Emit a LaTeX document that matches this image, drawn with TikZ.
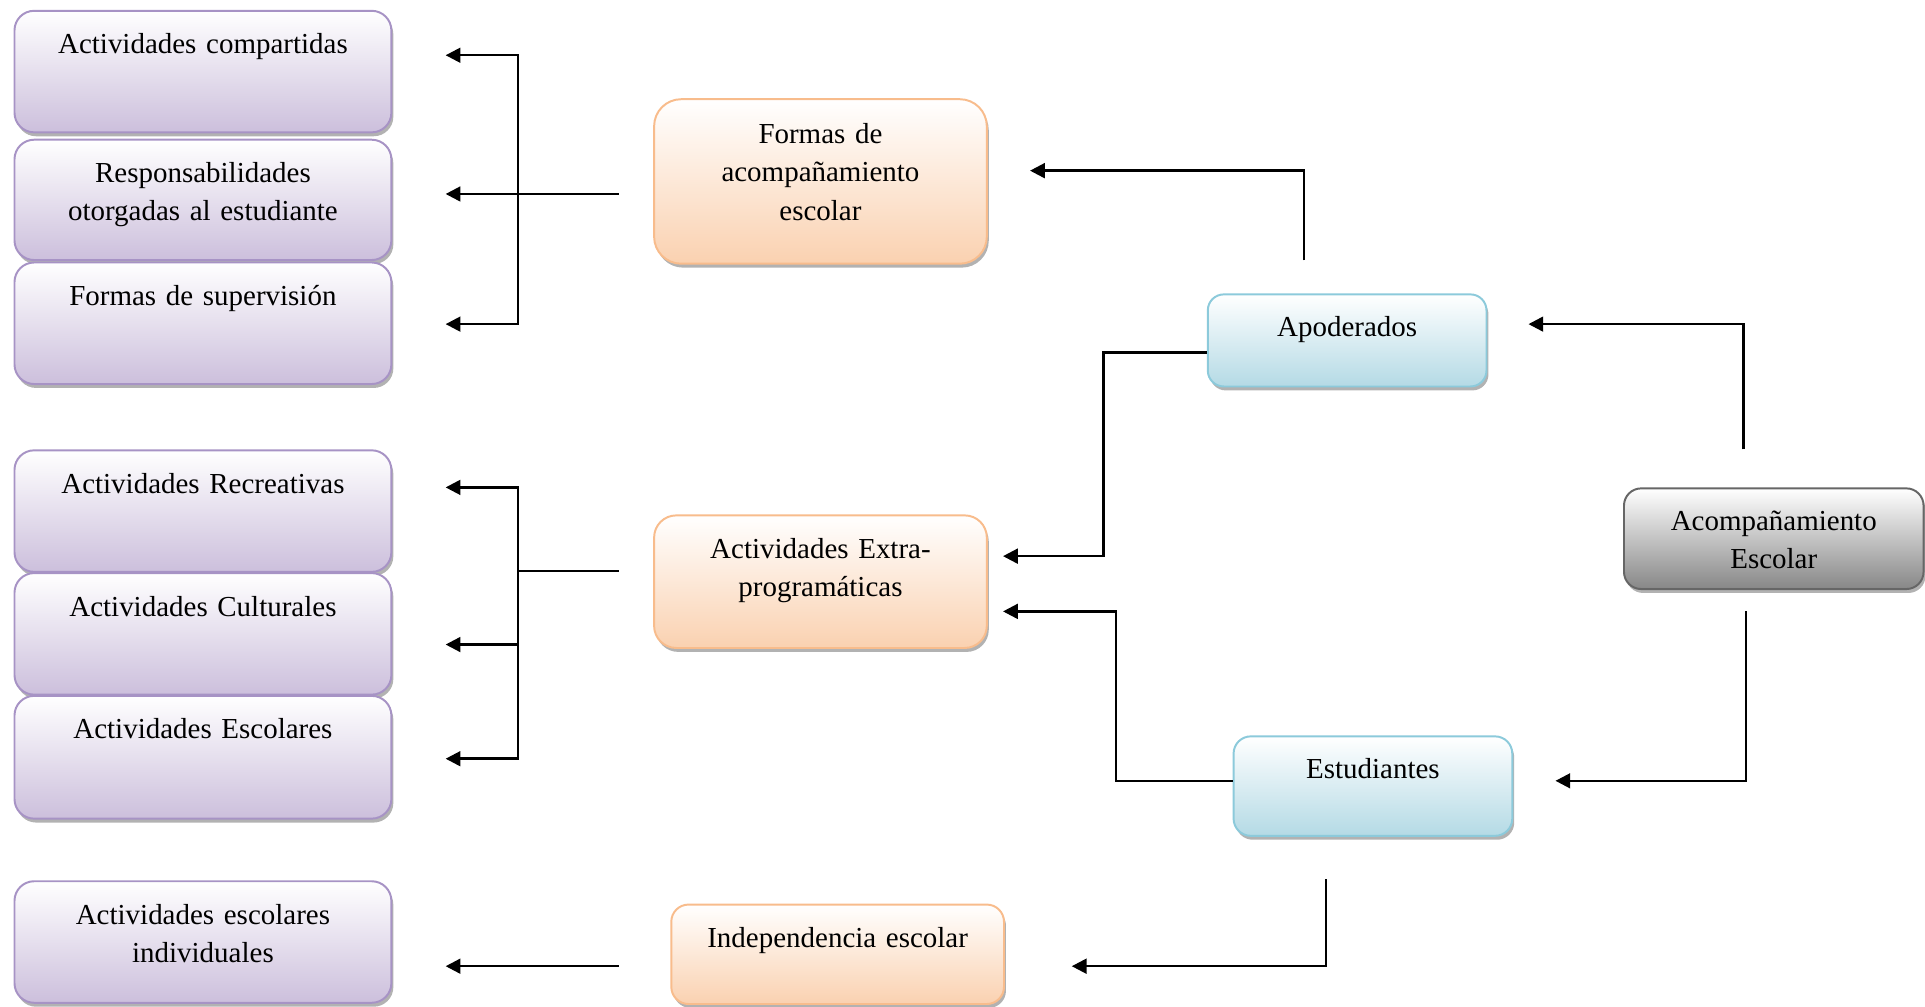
\documentclass[tikz,border=0pt]{standalone}
\usepackage{fontspec}
\setmainfont{Liberation Serif}
\usetikzlibrary{arrows.meta,shadows}
\definecolor{purpB}{HTML}{A793C5}
\definecolor{purpF}{HTML}{CCBFDC}
\definecolor{oranB}{HTML}{F8BC8C}
\definecolor{oranF}{HTML}{FAD1B0}
\definecolor{blueB}{HTML}{8CCADB}
\definecolor{blueF}{HTML}{B4DAE5}
\definecolor{grayB}{HTML}{666666}
\definecolor{grayF}{HTML}{878787}
\begin{document}
\begin{tikzpicture}[x=0.5pt,y=-0.5pt,
  base/.style={inner sep=0pt, align=center, line width=0.8pt,
    font=\fontsize{11.8pt}{15.6pt}\selectfont, anchor=north west,
    drop shadow={shadow xshift=0.8pt, shadow yshift=-1.6pt, fill=black, opacity=0.3}},
  bx/.style n args={4}{minimum width=#1pt, text width=#1pt, text height=#2pt, text depth=#3pt, rounded corners=#4pt},
  pbox/.style={base, draw=purpB, top color=white, bottom color=purpF},
  obox/.style={base, draw=oranB, top color=white, bottom color=oranF},
  bbox/.style={base, draw=blueB, top color=white, bottom color=blueF},
  gbox/.style={base, draw=grayB, top color=white, bottom color=grayF},
  arr/.style={-{Triangle[length=6pt,width=6pt]}, line width=1pt},
  ln/.style={line width=1pt},
  darr/.style={{Triangle[length=6pt,width=6pt]}-{Triangle[length=6pt,width=6pt]}, line width=1pt}
]
\useasboundingbox (0,0) rectangle (1568,820.2);

% left purple boxes
\node[pbox, bx={153.5}{17.5}{32}{8}] (b1) at (11,8) {Actividades compartidas};
\node[pbox, bx={153.5}{17.5}{31.5}{8}] (b2) at (11,113) {Responsabilidades\\otorgadas al estudiante};
\node[pbox, bx={153.5}{17.5}{32}{8}] (b3) at (11,213) {Formas de supervisión};
\node[pbox, bx={153.5}{17.5}{32}{8}] (b4) at (11,366) {Actividades Recreativas};
\node[pbox, bx={153.5}{17.5}{32}{8}] (b5) at (11,466) {Actividades Culturales};
\node[pbox, bx={153.5}{17.5}{32.5}{8}] (b6) at (11,566) {Actividades Escolares};
\node[pbox, bx={153.5}{17.5}{32}{8}] (b7) at (11,717) {Actividades escolares\\individuales};

% orange boxes
\node[obox, bx={135.5}{18}{49}{11}] (o1) at (532,80) {Formas de\\acompañamiento\\escolar};
\node[obox, bx={135.5}{17.5}{36.5}{9}] (o2) at (532,419) {Actividades Extra-\\programáticas};
\node[obox, bx={135.5}{17.5}{23}{7}] (o3) at (546,736) {Independencia escolar};

% blue boxes
\node[bbox, bx={113.5}{17}{20.5}{6.5}] (apo) at (983,239) {Apoderados};
\node[bbox, bx={113.5}{17}{23.5}{7}] (est) at (1004,599) {Estudiantes};

% gray box
\node[gbox, bx={122}{17}{24}{7}] (acomp) at (1322,397) {Acompañamiento\\Escolar};

% coordinates
\coordinate (t1a) at (363,45);
\coordinate (j1a) at (422,45);
\coordinate (j1c) at (422,264);
\coordinate (t1c) at (363,264);
\coordinate (s1) at (504,158);
\coordinate (t1b) at (363,158);

\coordinate (t2a) at (363,397);
\coordinate (j2a) at (422,397);
\coordinate (j2b) at (422,525);
\coordinate (t2b) at (363,525);
\coordinate (j2c) at (422,618);
\coordinate (t2c) at (363,618);
\coordinate (s2) at (504,465);
\coordinate (m2) at (422,465);

\coordinate (s3) at (504,787);
\coordinate (t3) at (363,787);

\coordinate (pa1) at (1062,212);
\coordinate (to1) at (839,139);
\coordinate (pa2) at (983,287);
\coordinate (to2a) at (817,453);
\coordinate (pe1) at (1004,636);
\coordinate (to2b) at (817,498);
\coordinate (pc1) at (1420,366);
\coordinate (tapo) at (1245,264);
\coordinate (pc2) at (1422,498);
\coordinate (test) at (1267,636);
\coordinate (pe2) at (1080,716);
\coordinate (to3) at (873,787);

% left brackets
\draw[darr] (t1a) -- (j1a) -- (j1c) -- (t1c);
\draw[arr] (s1) -- (t1b);
\draw[darr] (t2a) -- (j2a) -- (j2c) -- (t2c);
\draw[arr] (j2b) -- (t2b);
\draw[ln] (s2) -- (m2);
\draw[arr] (s3) -- (t3);

% right connectors
\draw[arr] (pa1) |- (to1);
\draw[arr] (pa2) -- ++(-84,0) |- (to2a);
\draw[arr] (pe1) -- ++(-95,0) |- (to2b);
\draw[arr] (pc1) |- (tapo);
\draw[arr] (pc2) |- (test);
\draw[arr] (pe2) |- (to3);
\end{tikzpicture}
\end{document}
